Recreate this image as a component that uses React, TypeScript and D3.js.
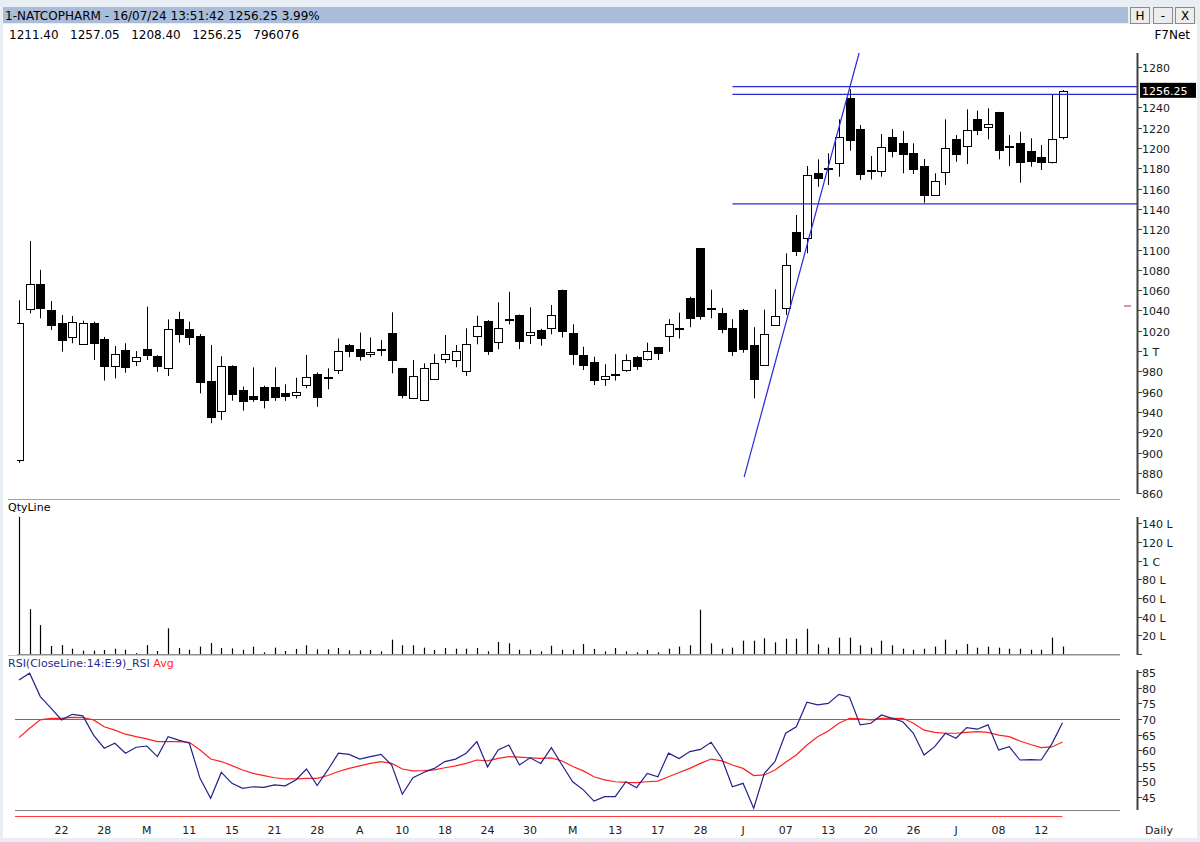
import { useEffect, useRef } from "react";
import * as d3 from "d3";

// OHLC, one entry per trading day (index 0 .. 98)
const opens = [
  893, 1041.4, 1066, 1040.5, 1027.4, 1014, 1007.7, 1028, 1011.6, 985.3,
  1001, 990.2, 1001.8, 995.5, 983, 1032, 1021.4, 1014.8, 970.6, 940.4,
  985.6, 961.7, 956, 965, 965, 958.4, 956.7, 966.6, 977, 973.5,
  982, 1006, 1001.8, 997.1, 1002, 1017.5, 983, 954.5, 952.5, 972.2,
  991.9, 991.9, 980.4, 1015.2, 1029.6, 1008.3, 1030.5, 1035.5, 1015.8, 1020.8,
  1022.4, 1060, 1017.5, 996.2, 989.7, 972.9, 976.5, 981.4, 994.5, 992.2,
  1003.7, 1014.1, 1021.5, 1052, 1101.4, 1042, 1037.8, 1022.4, 1040.8, 1006,
  986.4, 1026.4, 1042.7, 1117.5, 1111, 1175.6, 1179, 1185.5, 1248.9, 1218.6,
  1177, 1176.6, 1211, 1205.2, 1195.3, 1182.2, 1154.4, 1175.6, 1208.5, 1201.9,
  1228.2, 1220.9, 1235.1, 1201.5, 1204.6, 1197, 1191.4, 1186.4, 1211.4,
];
const highs = [
  1050, 1108.4, 1080, 1049.3, 1035.5, 1034.5, 1030, 1029, 1014, 1005,
  1007.7, 1000, 1043.7, 996, 1031.2, 1038.8, 1029, 1016.8, 1006, 994.8,
  986, 965, 984, 966, 984, 967.3, 973.8, 996.2, 979, 983,
  1012.4, 1007, 1018.2, 1013.4, 1011, 1038.2, 983.5, 991.2, 988, 997,
  1015.8, 1006, 1022.4, 1034.8, 1030.5, 1048, 1058.4, 1036, 1043.1, 1022,
  1045.4, 1060.5, 1026.3, 1004.3, 994.5, 987, 997, 996.8, 995, 1008.3,
  1004, 1031.4, 1037.8, 1053.6, 1101.5, 1060.4, 1042.4, 1031.4, 1041.5, 1023.5,
  1040.8, 1060.8, 1096.2, 1134, 1182.2, 1188.8, 1194.7, 1228.2, 1257.7, 1222.6,
  1192, 1213.7, 1218.6, 1216.7, 1204.6, 1189.1, 1175, 1228.2, 1212.7, 1238,
  1236.7, 1239, 1235.5, 1212.7, 1216, 1209.5, 1202.9, 1252.8, 1257.05,
];
const lows = [
  890, 1037.2, 1032.3, 1020.8, 999.5, 1007.7, 1007, 991.2, 971, 973.2,
  978.7, 985.3, 991.2, 979.7, 975.5, 1008.3, 1006, 958.4, 929, 932.2,
  951.2, 941.4, 950, 943.6, 951, 951, 953.5, 963.4, 945.2, 962.4,
  977.4, 994, 990.6, 993.9, 995.2, 978.1, 953.5, 953.5, 952, 971.6,
  988, 984, 975.5, 1006.7, 996.2, 1001.8, 1026.3, 1002, 1007, 1005.3,
  1016.5, 1013.4, 986.4, 981.4, 966.6, 965.7, 971, 979.7, 981.4, 990.6,
  991.2, 999.4, 1012.4, 1023.5, 1030.9, 1032.3, 1017.5, 995.2, 998.4, 953.5,
  985.3, 1025, 1035.5, 1093.6, 1096.3, 1161.8, 1163.5, 1171.7, 1197.3, 1168.4,
  1169, 1171.7, 1190.8, 1175, 1174.3, 1146.1, 1153.7, 1163.5, 1186.4, 1184.2,
  1212.7, 1208.5, 1188.8, 1182.2, 1165.8, 1181.5, 1178.3, 1184.8, 1208.4,
];
const closes = [
  1027.4, 1065.7, 1042, 1025.7, 1010.9, 1029, 1028, 1008.3, 985.3, 996.8,
  984.6, 994.5, 996.2, 985.3, 1021.4, 1017.5, 1013.4, 970, 935.5, 985,
  957.7, 951.2, 953.5, 952.5, 955, 955, 959.4, 974.8, 954.5, 974.5,
  1000.4, 1000, 995.2, 999.4, 1002.5, 991.2, 956.8, 975.8, 983.7, 988,
  997.1, 1000.4, 1007, 1024.7, 1000.4, 1022.4, 1031.5, 1010, 1018.5, 1013.4,
  1035.5, 1019.2, 997.1, 986.4, 972.2, 975.8, 977.5, 991.2, 985.3, 1000.4,
  997.8, 1026.4, 1022.5, 1032.3, 1034.8, 1042.8, 1021.7, 1000.1, 1002.1, 972.2,
  1016.5, 1034.8, 1084.7, 1098.8, 1173.4, 1170.7, 1179.8, 1211, 1207.1, 1174,
  1178, 1200.6, 1197.3, 1194, 1179.3, 1153.7, 1167.7, 1199.6, 1194, 1217.7,
  1217, 1223.6, 1197.3, 1202.2, 1185.5, 1187.4, 1186.4, 1208.8, 1256.25,
];

// volume in lakhs
const volumes = [
  147, 48, 31, 8.6, 9.6, 5.7, 3.6, 3.6, 4.3, 5.7,
  4.6, 1.0, 9.6, 3.2, 27.5, 6.4, 4.6, 7.9, 11.8, 6.4,
  6.0, 4.6, 7.9, 1.8, 6.8, 3.2, 5.4, 9.3, 5.0, 5.0,
  6.4, 3.9, 3.9, 4.3, 2.9, 15.4, 9.3, 9.3, 6.8, 4.3,
  6.4, 5.7, 5.7, 6.4, 2.9, 12.9, 11.4, 4.6, 4.6, 2.9,
  8.9, 4.6, 4.6, 10.7, 5.4, 2.9, 6.4, 2.9, 1.8, 4.3,
  1.8, 5.7, 7.9, 9.3, 47.5, 11.4, 5.7, 6.8, 14.3, 14.3,
  16.8, 12.5, 16.4, 16.4, 27.1, 10.4, 6.8, 17.5, 17.5, 9.3,
  6.8, 14.3, 9.3, 5.7, 4.6, 5.7, 7.9, 15.4, 4.6, 10.7,
  6.8, 7.9, 6.8, 5.7, 5.7, 4.6, 4.6, 17.5, 7.96,
];

const rsiValues = [
  82.5, 84.7, 77.2, 73.5, 69.7, 71.5, 71.0, 64.8, 60.6, 62.2,
  59.0, 60.9, 61.3, 57.9, 64.3, 63.2, 62.2, 50.9, 44.5, 52.8,
  49.3, 47.7, 48.2, 48.0, 48.8, 48.5, 50.4, 53.9, 48.6, 53.6,
  59.0, 58.6, 57.1, 57.9, 58.6, 55.2, 45.8, 51.1, 52.8, 54.1,
  56.3, 57.1, 59.0, 62.7, 54.6, 60.0, 61.6, 55.2, 57.5, 55.7,
  60.8, 55.2, 49.8, 47.2, 43.6, 45.0, 45.0, 49.8, 47.9, 52.5,
  51.4, 59.0, 57.3, 59.5, 60.2, 62.5, 57.3, 48.2, 49.3, 41.3,
  52.5, 56.3, 65.4, 67.5, 75.4, 74.5, 75.0, 77.9, 77.0, 68.1,
  68.6, 71.3, 70.2, 69.1, 65.4, 58.4, 61.1, 65.4, 63.8, 67.2,
  66.7, 68.1, 60.0, 61.1, 56.8, 56.9, 56.8, 62.0, 68.8,
];
const rsiAvg = [
  64.0, 67.0, 69.7, 70.2, 70.2, 70.5, 70.4, 69.7, 67.5, 66.4,
  65.1, 64.3, 63.6, 62.7, 62.7, 62.7, 62.5, 60.0, 57.1, 56.3,
  55.0, 53.6, 52.5, 51.8, 51.1, 50.7, 50.7, 50.9, 50.9, 51.8,
  53.1, 54.1, 54.9, 55.7, 56.3, 55.7, 53.9, 53.3, 53.4, 53.6,
  54.3, 54.9, 55.7, 56.8, 56.5, 57.3, 57.9, 57.7, 57.5, 57.3,
  57.5, 56.5, 54.7, 53.3, 51.4, 50.4, 49.8, 49.6, 49.5, 49.8,
  50.0, 51.4, 52.8, 54.1, 55.7, 57.1, 56.5, 55.2, 54.1, 51.8,
  52.0, 53.6, 56.1, 58.4, 61.6, 64.3, 66.1, 68.6, 70.2, 70.0,
  69.7, 70.2, 70.2, 70.2, 68.6, 66.4, 65.7, 65.4, 65.4, 65.7,
  65.9, 65.7, 64.8, 64.3, 62.9, 61.8, 60.8, 61.0, 62.6,
];

// a label every 4th bar, starting at bar 4
const dateLabels = [
  "22", "28", "M", "11", "15", "21", "28", "A", "10", "18", "24", "30",
  "M", "13", "17", "28", "J", "07", "13", "20", "26", "J", "08", "12",
];

const priceTicks = [1280, 1240, 1220, 1200, 1180, 1160, 1140, 1120, 1100, 1080, 1060, 1040, 1020, 1000, 980, 960, 940, 920, 900, 880, 860];
const volumeTicks = [20, 40, 60, 80, 100, 120, 140];
const rsiTicks = [45, 50, 55, 60, 65, 70, 75, 80, 85];

// drawn studies: resistance / support levels and the trend line
const levelPrices = [1260.3, 1252.8, 1145];
const levelStartBar = 67;
const trendBars = [68.1, 78.9];
const trendPrices = [876, 1293.5];

export default function App() {
  const svgRef = useRef<SVGSVGElement>(null);

  useEffect(() => {
    if (!svgRef.current) return;
    const svg = d3.select(svgRef.current);
    svg.selectAll("*").remove();

    const width = 1200;
    const height = 842;
    const font = "DejaVu Sans, Verdana, sans-serif";
    const axisX = 1137;

    // scales
    const x = d3.scaleLinear().domain([0, 98]).range([19, 1062.5]);
    const yPrice = d3.scaleLinear().domain([860, 1280]).range([493.3, 66.7]);
    const yVol = d3.scaleLinear().domain([0, 140]).range([654, 523.4]);
    const yRsi = d3.scaleLinear().domain([45, 85]).range([796.7, 672.3]);
    const px = (i: number) => Math.round(x(i)) + 0.5;

    // frame
    svg.append("rect").attr("width", width).attr("height", height).attr("fill", "#e9eef5");
    svg.append("rect").attr("x", 3).attr("y", 24).attr("width", 1194).attr("height", 814).attr("fill", "#ffffff");

    // title bar
    svg.append("rect").attr("x", 3).attr("y", 7).attr("width", 1125).attr("height", 16).attr("fill", "#a9bcd8");
    svg.append("text").attr("x", 5).attr("y", 19.5).attr("font-family", font).attr("font-size", 12)
      .attr("fill", "#000").text("1-NATCOPHARM - 16/07/24 13:51:42 1256.25 3.99%");
    const buttons = [
      { label: "H", x: 1130 },
      { label: "-", x: 1153 },
      { label: "X", x: 1175 },
    ];
    buttons.forEach((b) => {
      svg.append("rect").attr("x", b.x + 0.5).attr("y", 7.5).attr("width", 19).attr("height", 16)
        .attr("fill", "#ececec").attr("stroke", "#8a8a8a");
      svg.append("text").attr("x", b.x + 10).attr("y", 20).attr("text-anchor", "middle")
        .attr("font-family", font).attr("font-size", 12).attr("fill", "#000").text(b.label);
    });
    svg.append("text").attr("x", 9).attr("y", 39).attr("font-family", font).attr("font-size", 12)
      .attr("fill", "#000").attr("xml:space", "preserve")
      .text("1211.40   1257.05   1208.40   1256.25   796076");
    svg.append("text").attr("x", 1190).attr("y", 39).attr("text-anchor", "end").attr("font-family", font)
      .attr("font-size", 12).attr("fill", "#000").text("F7Net");

    // clip for the plotting area
    const defs = svg.append("defs");
    defs.append("clipPath").attr("id", "plotClip").append("rect")
      .attr("x", 17).attr("y", 44).attr("width", axisX - 17).attr("height", 780);

    // panel separators
    svg.append("line").attr("x1", 8).attr("x2", 1120).attr("y1", 499.5).attr("y2", 499.5).attr("stroke", "#a0a0a0");
    svg.append("line").attr("x1", 8).attr("x2", 1120).attr("y1", 655.5).attr("y2", 655.5).attr("stroke", "#c8c8c8");

    // ---------- price panel ----------
    const price = svg.append("g").attr("clip-path", "url(#plotClip)");
    const idx = d3.range(opens.length);

    price.selectAll(".wick").data(idx).enter().append("line")
      .attr("x1", (i) => px(i)).attr("x2", (i) => px(i))
      .attr("y1", (i) => yPrice(highs[i])).attr("y2", (i) => yPrice(lows[i]))
      .attr("stroke", "#000").attr("stroke-width", 1);

    price.selectAll(".body").data(idx).enter().append("rect")
      .attr("x", (i) => px(i) - 4)
      .attr("y", (i) => Math.round(yPrice(Math.max(opens[i], closes[i]))) + 0.5)
      .attr("width", 8)
      .attr("height", (i) => Math.max(1, Math.round(Math.abs(yPrice(opens[i]) - yPrice(closes[i])))))
      .attr("fill", (i) => (closes[i] >= opens[i] ? "#fff" : "#000"))
      .attr("stroke", "#000").attr("stroke-width", 1);

    // levels and trend line
    levelPrices.forEach((p) => {
      svg.append("line").attr("x1", x(levelStartBar)).attr("x2", axisX)
        .attr("y1", yPrice(p)).attr("y2", yPrice(p)).attr("stroke", "#2a2ad8").attr("stroke-width", 1.2);
    });
    svg.append("line")
      .attr("x1", x(trendBars[0])).attr("y1", yPrice(trendPrices[0]))
      .attr("x2", x(trendBars[1])).attr("y2", yPrice(trendPrices[1]))
      .attr("stroke", "#2a2ad8").attr("stroke-width", 1.2);

    // small marker near 1044
    svg.append("line").attr("x1", 1124).attr("x2", 1131).attr("y1", yPrice(1044.4)).attr("y2", yPrice(1044.4))
      .attr("stroke", "#b03030").attr("stroke-width", 1);

    // price axis
    svg.append("line").attr("x1", axisX + 0.5).attr("x2", axisX + 0.5).attr("y1", 53).attr("y2", 494)
      .attr("stroke", "#404040").attr("stroke-width", 2);
    priceTicks.forEach((t) => {
      const y = Math.round(yPrice(t)) + 0.5;
      svg.append("line").attr("x1", axisX).attr("x2", axisX + 5).attr("y1", y).attr("y2", y).attr("stroke", "#404040");
      svg.append("text").attr("x", axisX + 5).attr("y", y + 4).attr("font-family", font).attr("font-size", 11)
        .attr("fill", "#202020").text(t === 1000 ? "1 T" : String(t));
    });
    const lastY = yPrice(closes[closes.length - 1]);
    svg.append("rect").attr("x", 1140).attr("y", lastY - 8).attr("width", 56).attr("height", 15).attr("fill", "#000");
    svg.append("text").attr("x", 1142).attr("y", lastY + 4).attr("font-family", font).attr("font-size", 11)
      .attr("fill", "#fff").text(closes[closes.length - 1].toFixed(2));

    // ---------- volume panel ----------
    svg.append("text").attr("x", 8).attr("y", 511).attr("font-family", font).attr("font-size", 11)
      .attr("fill", "#000").text("QtyLine");
    svg.append("line").attr("x1", 17).attr("x2", 1120).attr("y1", 654.5).attr("y2", 654.5).attr("stroke", "#909090");
    svg.selectAll(".vol").data(idx).enter().append("line")
      .attr("x1", (i) => px(i)).attr("x2", (i) => px(i))
      .attr("y1", yVol(0)).attr("y2", (i) => yVol(volumes[i]))
      .attr("stroke", "#000").attr("stroke-width", 1.2);

    svg.append("line").attr("x1", axisX + 0.5).attr("x2", axisX + 0.5).attr("y1", 517).attr("y2", 655)
      .attr("stroke", "#404040").attr("stroke-width", 2);
    [0, ...volumeTicks].forEach((t) => {
      const y = Math.round(yVol(t)) + 0.5;
      svg.append("line").attr("x1", axisX).attr("x2", axisX + 5).attr("y1", y).attr("y2", y).attr("stroke", "#404040");
      if (t > 0) {
        svg.append("text").attr("x", axisX + 5).attr("y", y + 4).attr("font-family", font).attr("font-size", 11)
          .attr("fill", "#202020").text(t === 100 ? "1 C" : `${t} L`);
      }
    });

    // ---------- RSI panel ----------
    const title = svg.append("text").attr("x", 8).attr("y", 667).attr("font-family", font).attr("font-size", 11);
    title.append("tspan").attr("fill", "#2a2a8a").text("RSI(CloseLine:14:E:9)_RSI ");
    title.append("tspan").attr("fill", "#ff2a2a").text("Avg");

    svg.append("line").attr("x1", 15).attr("x2", 1120).attr("y1", Math.round(yRsi(70)) + 0.5).attr("y2", Math.round(yRsi(70)) + 0.5)
      .attr("stroke", "#707070");
    svg.append("line").attr("x1", 15).attr("x2", 1120).attr("y1", 810.5).attr("y2", 810.5).attr("stroke", "#808080");
    svg.append("line").attr("x1", 15).attr("x2", x(98)).attr("y1", 816.5).attr("y2", 816.5).attr("stroke", "#ff4040");

    const rsiGroup = svg.append("g").attr("clip-path", "url(#plotClip)");
    const lineGen = (vals: number[]) =>
      d3.line<number>().x((_, i) => x(i)).y((d) => yRsi(d))(vals) as string;
    rsiGroup.append("path").attr("d", lineGen(rsiAvg)).attr("fill", "none").attr("stroke", "#ff2020").attr("stroke-width", 1.2);
    rsiGroup.append("path").attr("d", lineGen(rsiValues)).attr("fill", "none").attr("stroke", "#22228a").attr("stroke-width", 1.2);

    svg.append("line").attr("x1", axisX + 0.5).attr("x2", axisX + 0.5).attr("y1", 670).attr("y2", 810)
      .attr("stroke", "#404040").attr("stroke-width", 2);
    rsiTicks.forEach((t) => {
      const y = Math.round(yRsi(t)) + 0.5;
      svg.append("line").attr("x1", axisX).attr("x2", axisX + 5).attr("y1", y).attr("y2", y).attr("stroke", "#404040");
      svg.append("text").attr("x", axisX + 5).attr("y", y + 4).attr("font-family", font).attr("font-size", 11)
        .attr("fill", "#202020").text(String(t));
    });

    // date axis
    dateLabels.forEach((d, k) => {
      svg.append("text").attr("x", x(4 + k * 4)).attr("y", 834).attr("text-anchor", "middle")
        .attr("font-family", font).attr("font-size", 11).attr("fill", "#202020").text(d);
    });
    svg.append("text").attr("x", 1159).attr("y", 834).attr("text-anchor", "middle").attr("font-family", font)
      .attr("font-size", 11).attr("fill", "#202020").text("Daily");
  }, []);

  return (
    <div style={{ position: "absolute", left: 0, top: 0 }}>
      <svg ref={svgRef} width={1200} height={842}></svg>
    </div>
  );
}
